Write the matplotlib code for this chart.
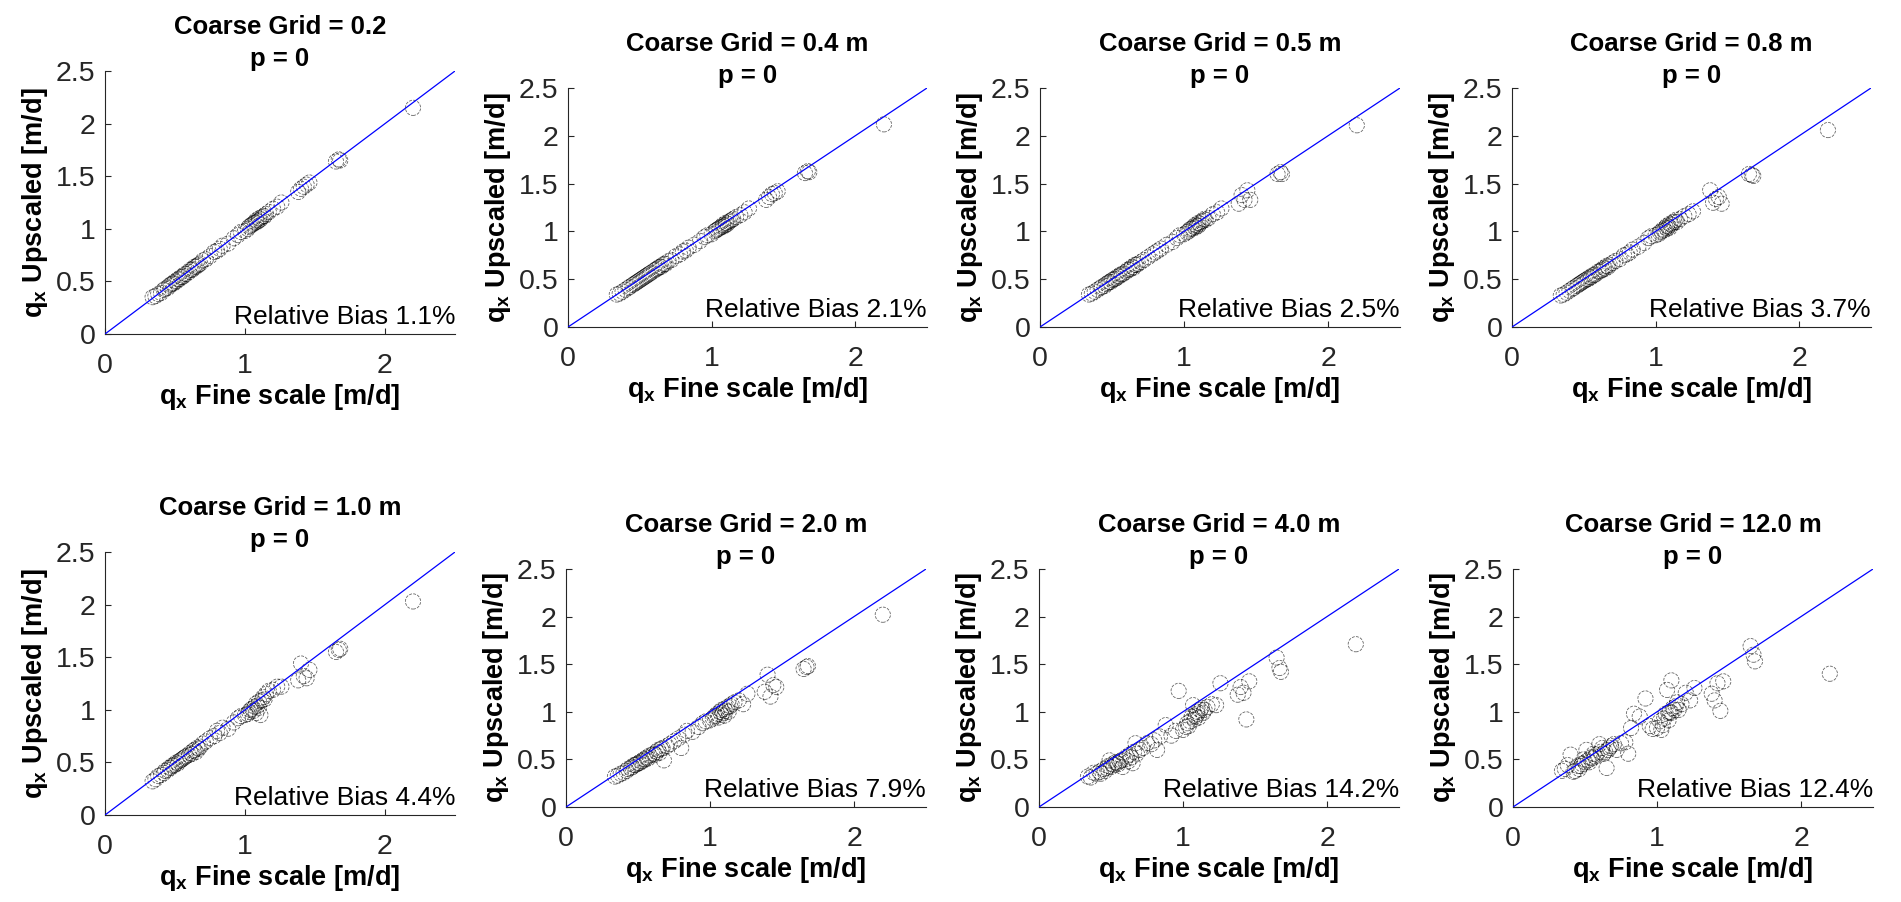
import matplotlib
matplotlib.use("Agg")
import matplotlib.pyplot as plt

plt.rcParams['font.family'] = ['Liberation Sans', 'DejaVu Sans']
plt.rcParams['mathtext.fontset'] = 'custom'
plt.rcParams['mathtext.rm'] = 'Liberation Sans'
plt.rcParams['mathtext.bf'] = 'Liberation Sans:bold'

# fine-scale specific discharge (same cells in every panel)
q_fine = [0.34, 0.36, 0.38, 0.40, 0.42, 0.43, 0.45, 0.46, 0.47, 0.48,
          0.49, 0.50, 0.51, 0.52, 0.53, 0.54, 0.55, 0.56, 0.57, 0.58,
          0.60, 0.61, 0.62, 0.63, 0.64, 0.65, 0.66, 0.67, 0.68, 0.70,
          0.72, 0.75, 0.78, 0.80, 0.82, 0.84, 0.88, 0.92, 0.95, 0.97,
          1.00, 1.02, 1.03, 1.04, 1.05, 1.06, 1.07, 1.08, 1.08, 1.09,
          1.10, 1.10, 1.11, 1.12, 1.13, 1.14, 1.15, 1.17, 1.20, 1.23,
          1.26, 1.38, 1.40, 1.42, 1.44, 1.46, 1.65, 1.67, 1.68, 2.20]

# upscaled values for each coarse grid size
q_up_02 = [0.35, 0.36, 0.38, 0.39, 0.42, 0.43, 0.44, 0.46, 0.47, 0.48,
           0.48, 0.50, 0.50, 0.52, 0.52, 0.54, 0.54, 0.55, 0.57, 0.57,
           0.59, 0.61, 0.61, 0.62, 0.64, 0.64, 0.65, 0.66, 0.67, 0.70,
           0.71, 0.74, 0.78, 0.79, 0.81, 0.84, 0.86, 0.91, 0.94, 0.97,
           0.98, 1.00, 1.02, 1.03, 1.04, 1.05, 1.06, 1.06, 1.08, 1.07,
           1.08, 1.10, 1.09, 1.11, 1.12, 1.12, 1.14, 1.16, 1.19, 1.21,
           1.25, 1.35, 1.38, 1.40, 1.42, 1.44, 1.64, 1.66, 1.65, 2.15]
q_up_04 = [0.34, 0.35, 0.37, 0.39, 0.41, 0.42, 0.44, 0.45, 0.46, 0.47,
           0.48, 0.49, 0.50, 0.51, 0.52, 0.53, 0.54, 0.55, 0.56, 0.57,
           0.59, 0.60, 0.61, 0.62, 0.63, 0.63, 0.65, 0.66, 0.66, 0.69,
           0.70, 0.74, 0.76, 0.79, 0.80, 0.83, 0.86, 0.90, 0.94, 0.96,
           0.97, 1.00, 1.01, 1.02, 1.03, 1.04, 1.05, 1.05, 1.07, 1.06,
           1.07, 1.09, 1.08, 1.10, 1.11, 1.12, 1.13, 1.15, 1.17, 1.20,
           1.24, 1.33, 1.36, 1.39, 1.40, 1.42, 1.61, 1.63, 1.62, 2.12]
q_up_05 = [0.34, 0.35, 0.37, 0.39, 0.41, 0.42, 0.43, 0.45, 0.46, 0.47,
           0.47, 0.49, 0.50, 0.50, 0.51, 0.53, 0.53, 0.55, 0.55, 0.56,
           0.58, 0.60, 0.60, 0.61, 0.63, 0.62, 0.65, 0.65, 0.66, 0.68,
           0.70, 0.73, 0.76, 0.78, 0.80, 0.82, 0.86, 0.89, 0.93, 0.96,
           0.97, 0.99, 1.00, 1.02, 1.03, 1.03, 1.05, 1.04, 1.07, 1.06,
           1.06, 1.09, 1.08, 1.10, 1.11, 1.13, 1.12, 1.14, 1.18, 1.20,
           1.24, 1.29, 1.38, 1.33, 1.43, 1.33, 1.60, 1.62, 1.60, 2.11]
q_up_08 = [0.33, 0.34, 0.36, 0.38, 0.40, 0.41, 0.43, 0.44, 0.45, 0.46,
           0.47, 0.48, 0.49, 0.50, 0.50, 0.52, 0.52, 0.54, 0.54, 0.55,
           0.58, 0.58, 0.59, 0.60, 0.62, 0.61, 0.64, 0.63, 0.65, 0.67,
           0.69, 0.71, 0.75, 0.76, 0.78, 0.81, 0.84, 0.88, 0.93, 0.95,
           0.96, 0.97, 0.99, 1.00, 1.02, 1.01, 1.04, 1.03, 1.06, 1.05,
           1.04, 1.08, 1.07, 1.09, 1.10, 1.12, 1.10, 1.13, 1.16, 1.18,
           1.21, 1.43, 1.30, 1.34, 1.36, 1.29, 1.60, 1.59, 1.58, 2.06]
q_up_10 = [0.32, 0.34, 0.37, 0.38, 0.40, 0.42, 0.43, 0.45, 0.45, 0.47,
           0.47, 0.48, 0.50, 0.49, 0.51, 0.52, 0.53, 0.54, 0.55, 0.56,
           0.57, 0.59, 0.58, 0.61, 0.62, 0.60, 0.64, 0.63, 0.65, 0.68,
           0.70, 0.73, 0.75, 0.80, 0.78, 0.83, 0.82, 0.88, 0.92, 0.94,
           0.95, 0.96, 0.98, 1.00, 1.01, 0.99, 1.03, 0.97, 1.06, 1.04,
           1.02, 1.08, 0.95, 1.09, 1.12, 1.10, 1.15, 1.18, 1.19, 1.22,
           1.22, 1.28, 1.44, 1.32, 1.30, 1.38, 1.55, 1.57, 1.58, 2.03]
q_up_20 = [0.32, 0.33, 0.35, 0.36, 0.38, 0.40, 0.41, 0.42, 0.44, 0.44,
           0.45, 0.46, 0.46, 0.48, 0.48, 0.50, 0.50, 0.52, 0.51, 0.54,
           0.55, 0.56, 0.55, 0.58, 0.60, 0.57, 0.61, 0.62, 0.49, 0.64,
           0.66, 0.69, 0.72, 0.62, 0.76, 0.80, 0.79, 0.84, 0.88, 0.90,
           0.91, 0.93, 0.95, 0.96, 0.98, 0.94, 1.00, 0.97, 1.02, 0.99,
           0.96, 1.03, 1.01, 1.05, 1.00, 1.06, 1.08, 1.10, 1.12, 1.08,
           1.19, 1.21, 1.39, 1.16, 1.28, 1.26, 1.45, 1.47, 1.48, 2.02]
q_up_40 = [0.32, 0.31, 0.36, 0.35, 0.37, 0.35, 0.40, 0.38, 0.41, 0.43,
           0.49, 0.42, 0.45, 0.44, 0.47, 0.46, 0.45, 0.48, 0.49, 0.42,
           0.50, 0.53, 0.48, 0.55, 0.52, 0.46, 0.58, 0.67, 0.56, 0.60,
           0.62, 0.67, 0.66, 0.70, 0.60, 0.74, 0.86, 0.75, 0.80, 1.22,
           0.81, 0.84, 0.88, 0.85, 0.90, 0.95, 1.07, 0.92, 0.96, 0.95,
           0.98, 1.00, 0.94, 1.02, 1.04, 0.99, 1.02, 1.05, 1.08, 1.07,
           1.30, 1.18, 1.26, 1.20, 0.92, 1.32, 1.57, 1.46, 1.42, 1.71]
q_up_120 = [0.38, 0.40, 0.44, 0.55, 0.37, 0.38, 0.43, 0.40, 0.43, 0.45,
            0.50, 0.47, 0.60, 0.49, 0.47, 0.52, 0.51, 0.56, 0.53, 0.55,
            0.66, 0.58, 0.62, 0.56, 0.58, 0.41, 0.60, 0.62, 0.64, 0.66,
            0.60, 0.67, 0.68, 0.56, 0.83, 0.98, 0.95, 1.14, 0.85, 0.82,
            0.83, 0.90, 0.81, 0.86, 0.93, 0.98, 1.23, 0.91, 0.99, 1.00,
            1.33, 0.99, 1.04, 1.02, 1.06, 1.10, 1.02, 1.08, 1.20, 1.12,
            1.25, 1.19, 1.12, 1.30, 1.01, 1.32, 1.69, 1.60, 1.53, 1.40]

grid_labels = ["0.2", "0.4 m", "0.5 m", "0.8 m", "1.0 m", "2.0 m", "4.0 m", "12.0 m"]
bias = [1.1, 2.1, 2.5, 3.7, 4.4, 7.9, 14.2, 12.4]
upscaled = [q_up_02, q_up_04, q_up_05, q_up_08, q_up_10, q_up_20, q_up_40, q_up_120]

W, H = 1901, 902
# axes boxes in pixels: left, right, top, bottom
boxes = [(105, 455, 71, 334), (568, 927, 88, 327), (1040, 1400, 88, 327), (1512, 1871, 88, 327),
         (105, 455, 552, 815), (566, 926, 569, 807), (1039, 1399, 569, 807), (1513, 1873, 569, 807)]

fig = plt.figure(figsize=(W / 100, H / 100), dpi=100)
txt = '#262626'

for i in range(8):
    l, r, t, b = boxes[i]
    ax = fig.add_axes([l / W, 1 - b / H, (r - l) / W, (b - t) / H])
    ax.scatter(q_fine, upscaled[i], s=120, facecolors='none', edgecolors='k',
               linewidths=0.6, linestyles=(0, (3.5, 1.5)), alpha=0.6, zorder=2)
    ax.plot([0, 2.5], [0, 2.5], color='#0000ff', lw=0.9, zorder=3)
    ax.set_xlim(0, 2.5)
    ax.set_ylim(0, 2.5)
    ax.set_xticks([0, 1, 2])
    ax.set_yticks([0, 0.5, 1, 1.5, 2, 2.5])
    ax.set_yticklabels(["0", "0.5", "1", "1.5", "2", "2.5"])
    ax.spines['top'].set_visible(False)
    ax.spines['right'].set_visible(False)
    for s in ['left', 'bottom']:
        ax.spines[s].set_color(txt)
        ax.spines[s].set_linewidth(0.8)
    ax.tick_params(direction='in', length=4, width=0.8, color=txt, labelcolor=txt,
                   labelsize=20.5)
    ax.tick_params(axis='x', pad=14)
    ax.tick_params(axis='y', pad=7)
    ax.set_title("Coarse Grid = " + grid_labels[i] + "\np = 0", fontsize=18.5,
                 fontweight='bold', pad=3, linespacing=1.4)
    ax.set_xlabel(r"$\mathbf{q_x}$ Fine scale [m/d]", fontsize=19.5, fontweight='bold', labelpad=2)
    ax.set_ylabel(r"$\mathbf{q_x}$ Upscaled [m/d]", fontsize=19.5, fontweight='bold', labelpad=4)
    ax.text(1.0, 0.02, "Relative Bias %.1f%%" % bias[i], transform=ax.transAxes,
            ha='right', va='bottom', fontsize=19, color='k')

plt.savefig("out.png", dpi=100)
